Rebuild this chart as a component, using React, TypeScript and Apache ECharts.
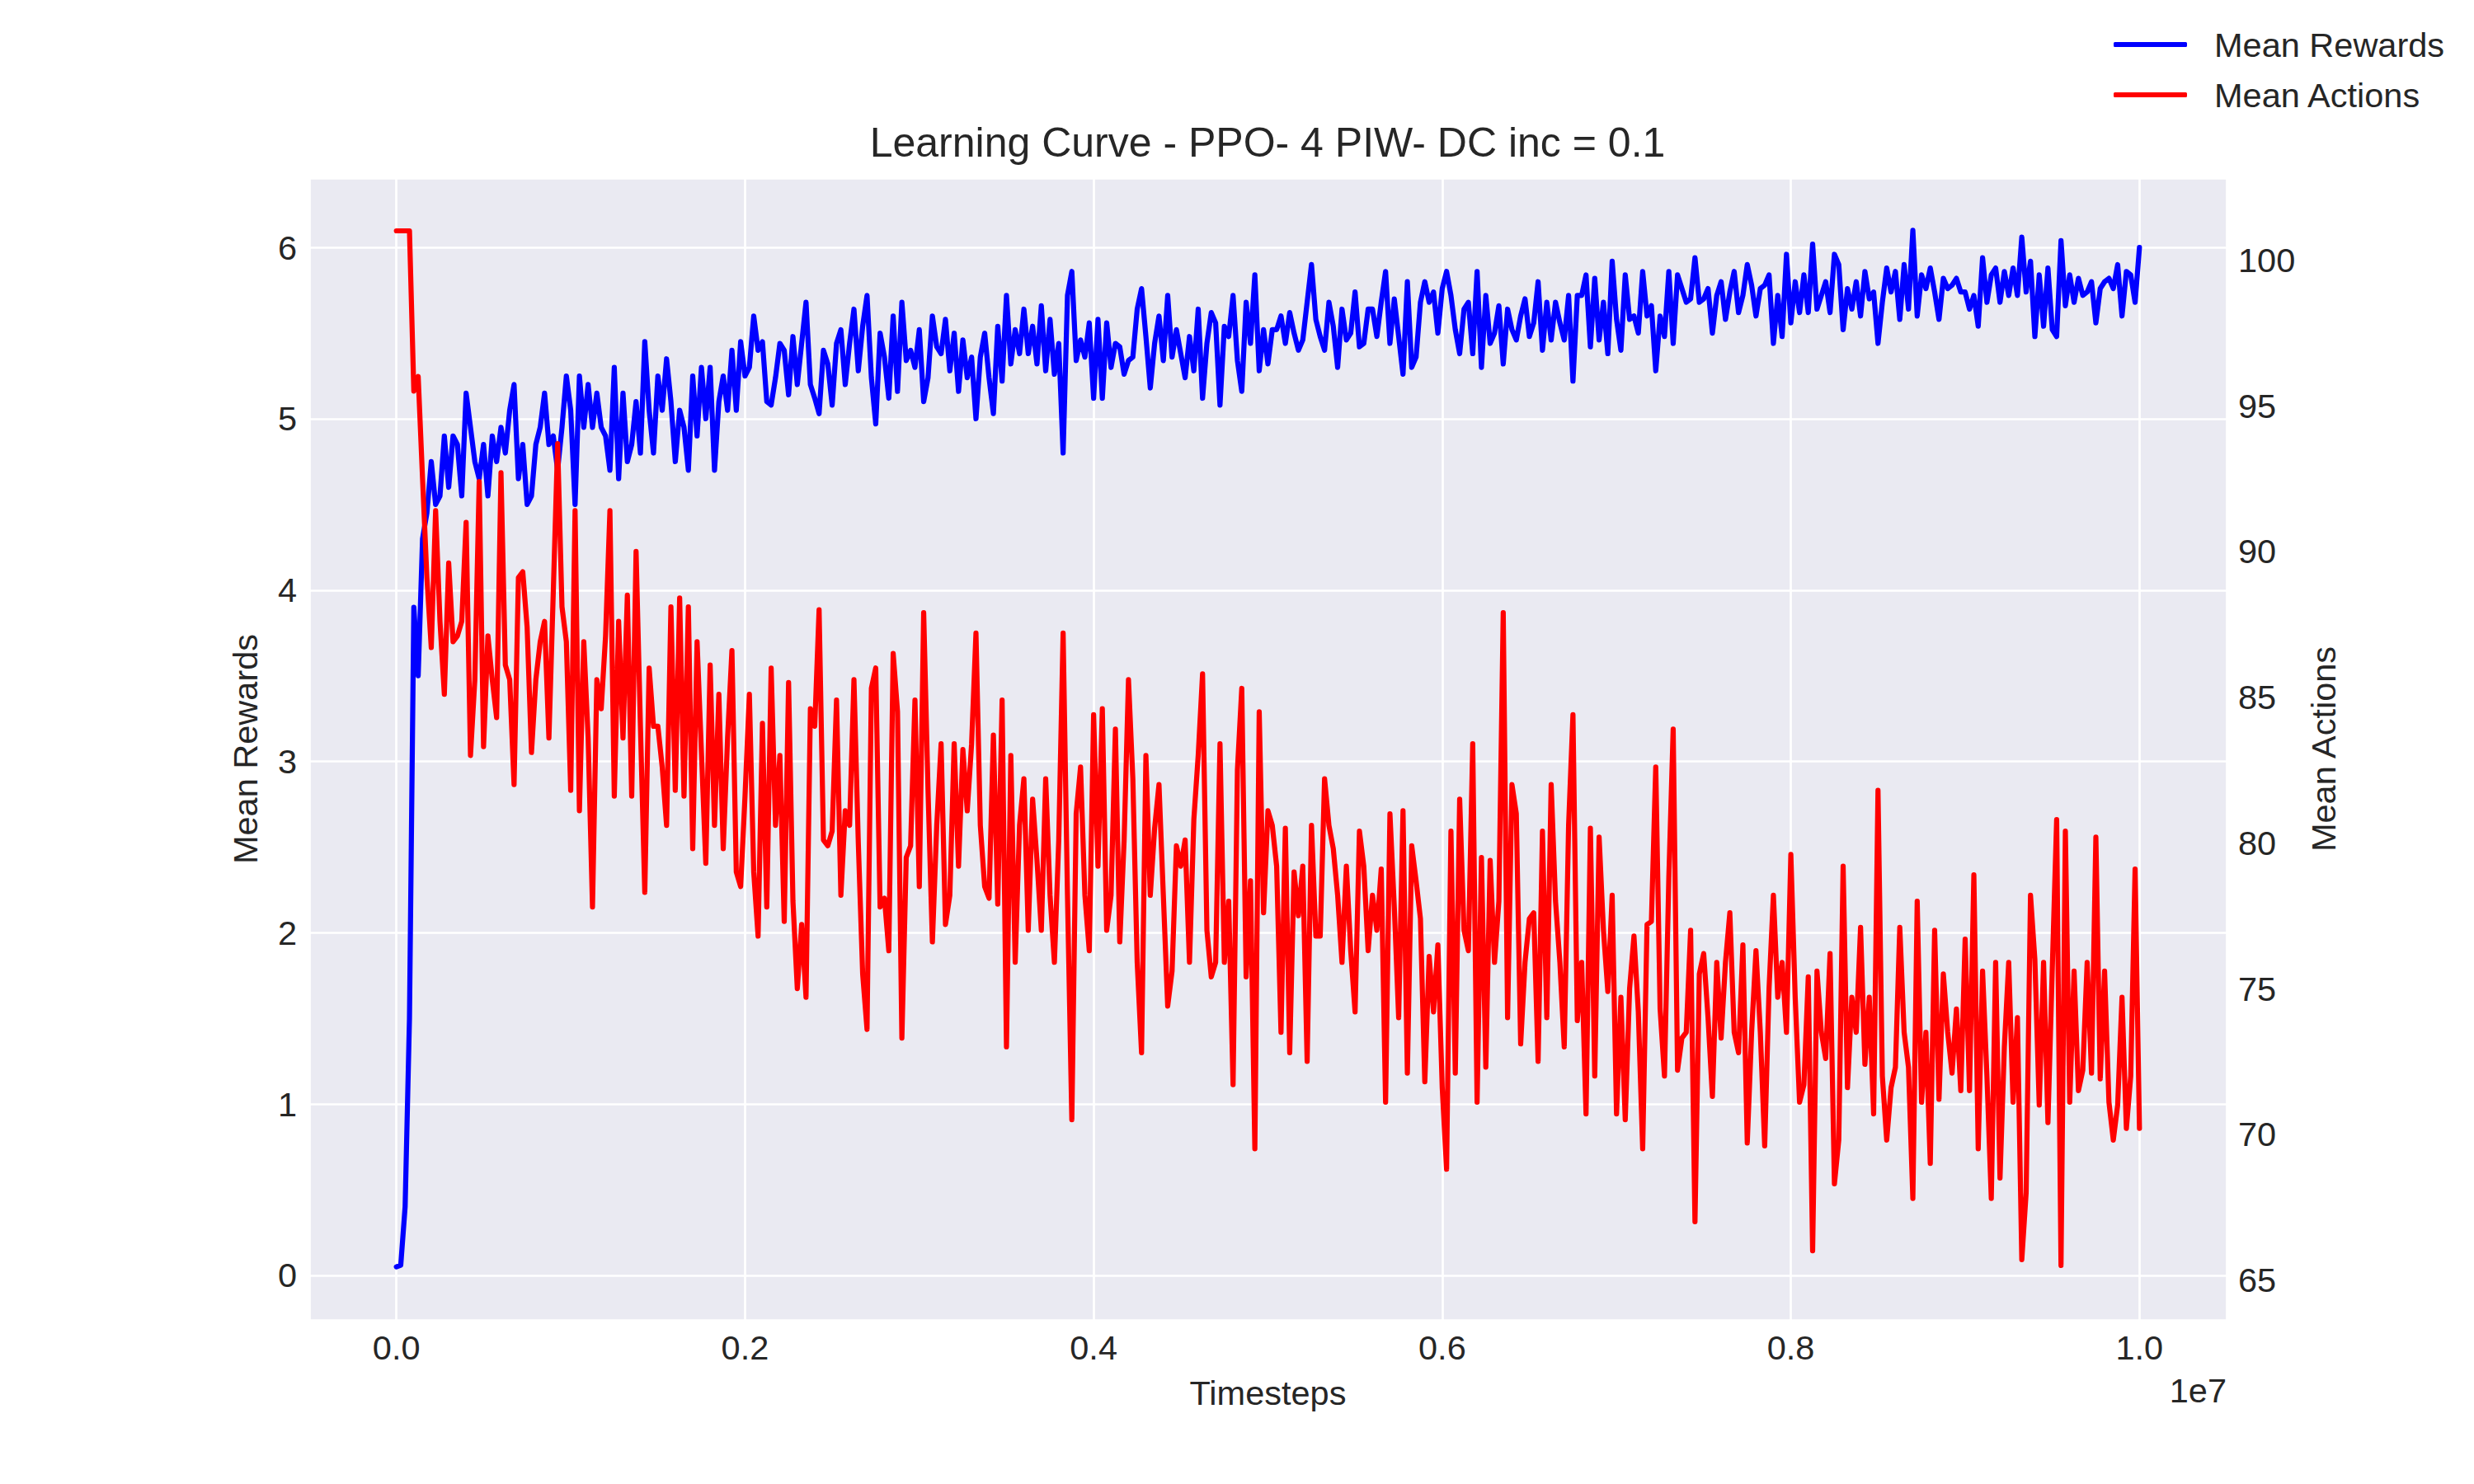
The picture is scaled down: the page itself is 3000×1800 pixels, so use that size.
import React, { useEffect, useRef } from "react";
import * as echarts from "echarts";

const FONT = "'Liberation Sans', Arial, sans-serif";
const TEXT_COLOR = "#262626";
const TITLE = "Learning Curve - PPO- 4 PIW- DC inc = 0.1";
const X_NAME = "Timesteps";
const Y_LEFT_NAME = "Mean Rewards";
const Y_RIGHT_NAME = "Mean Actions";
const X_OFFSET_LABEL = "1e7";

// timesteps are logged every STEP environment steps (0 .. 1e7)
const STEP = 25000;

// Mean Rewards (one value per STEP)
const REWARDS_A = [
  0.05, 0.06, 0.4, 1.5, 3.9, 3.5, 4.3, 4.45, 4.75, 4.5,
  4.55, 4.9, 4.6, 4.9, 4.85, 4.55, 5.15, 4.95, 4.75, 4.65,
  4.85, 4.55, 4.9, 4.75, 4.95, 4.8, 5.05, 5.2, 4.65, 4.85,
  4.5, 4.55, 4.85, 4.95, 5.15, 4.85, 4.9, 4.7, 4.95, 5.25,
  5.05, 4.5, 5.25, 4.95, 5.2, 4.95, 5.15, 4.95, 4.9, 4.7,
  5.3, 4.65, 5.15, 4.75, 4.85, 5.1, 4.8, 5.45, 5.05, 4.8,
  5.25, 5.05, 5.35, 5.1, 4.75, 5.05, 4.95, 4.7, 5.25, 4.9,
  5.3, 5.0, 5.3, 4.7, 5.1, 5.25, 5.05, 5.4, 5.05, 5.45,
  5.25, 5.3, 5.6, 5.4, 5.45, 5.1,
];
const REWARDS_B = [
  5.08, 5.24, 5.44, 5.4, 5.14, 5.48, 5.2, 5.44, 5.68, 5.2,
  5.12, 5.03, 5.4, 5.32, 5.08, 5.44, 5.52, 5.2, 5.44, 5.64,
  5.28, 5.54, 5.72, 5.24, 4.97, 5.5, 5.36, 5.12, 5.6, 5.16,
  5.68, 5.34, 5.4, 5.3, 5.52, 5.1, 5.24, 5.6, 5.42, 5.38,
  5.58, 5.28, 5.5, 5.16, 5.46, 5.24, 5.36, 5.0, 5.36, 5.5,
  5.24, 5.03, 5.54, 5.22, 5.72, 5.32, 5.52, 5.38, 5.64, 5.38,
  5.54, 5.32, 5.66, 5.28, 5.58, 5.26, 5.44, 4.8, 5.72, 5.86,
  5.34, 5.46, 5.36, 5.56, 5.12, 5.58, 5.12, 5.56, 5.3, 5.44,
];
const REWARDS_C = [
  5.42, 5.26, 5.34, 5.36, 5.64, 5.76, 5.48, 5.18, 5.44, 5.6,
  5.34, 5.72, 5.36, 5.52, 5.38, 5.24, 5.48, 5.28, 5.64, 5.12,
  5.44, 5.62, 5.56, 5.08, 5.54, 5.48, 5.72, 5.34, 5.16, 5.68,
  5.44, 5.84, 5.28, 5.52, 5.32, 5.52, 5.52, 5.6, 5.44, 5.62,
  5.5, 5.4, 5.46, 5.68, 5.9, 5.58, 5.48, 5.4, 5.68, 5.54,
  5.3, 5.64, 5.46, 5.5, 5.74, 5.42, 5.44, 5.64, 5.64, 5.48,
  5.68, 5.86, 5.44, 5.7, 5.48, 5.26, 5.8, 5.3, 5.36, 5.68,
  5.8, 5.68, 5.74, 5.5, 5.76, 5.86, 5.72, 5.52, 5.38, 5.64,
];
const REWARDS_D = [
  5.68, 5.38, 5.86, 5.3, 5.72, 5.44, 5.5, 5.66, 5.32, 5.64,
  5.52, 5.46, 5.6, 5.7, 5.48, 5.56, 5.8, 5.4, 5.68, 5.46,
  5.68, 5.56, 5.46, 5.72, 5.22, 5.72, 5.72, 5.84, 5.42, 5.82,
  5.46, 5.68, 5.38, 5.92, 5.58, 5.4, 5.84, 5.58, 5.6, 5.5,
  5.86, 5.6, 5.66, 5.28, 5.6, 5.48, 5.86, 5.44, 5.84, 5.76,
  5.68, 5.7, 5.94, 5.68, 5.7, 5.76, 5.5, 5.72, 5.8, 5.58,
  5.74, 5.86, 5.62, 5.72, 5.9, 5.78, 5.6, 5.76, 5.78, 5.84,
  5.44, 5.72, 5.48, 5.96, 5.56, 5.8, 5.62, 5.84, 5.62, 6.02,
];
const REWARDS_E = [
  5.64, 5.72, 5.8, 5.62, 5.96, 5.9, 5.52, 5.76, 5.64, 5.8,
  5.6, 5.86, 5.7, 5.74, 5.44, 5.68, 5.88, 5.74, 5.86, 5.58,
  5.9, 5.64, 6.1, 5.6, 5.84, 5.76, 5.88, 5.74, 5.58, 5.82,
  5.76, 5.78, 5.82, 5.74, 5.74, 5.64, 5.72, 5.54, 5.94, 5.68,
  5.84, 5.88, 5.68, 5.86, 5.72, 5.88, 5.72, 6.06, 5.74, 5.92,
  5.48, 5.84, 5.54, 5.88, 5.52, 5.48, 6.04, 5.66, 5.84, 5.68,
  5.82, 5.72, 5.74, 5.8, 5.56, 5.76, 5.8, 5.82, 5.76, 5.9,
  5.6, 5.86, 5.84, 5.68, 6.0,
];

// Mean Actions (one value per STEP)
const ACTIONS_A = [
  101, 101, 101, 101, 95.5, 96, 92.5, 89.1, 86.7, 91.4,
  87.6, 85.1, 89.6, 86.9, 87.1, 87.6, 91, 83, 85.6, 92.4,
  83.3, 87.1, 85.6, 84.3, 92.7, 86.1, 85.6, 82, 89.1, 89.3,
  87.4, 83.1, 85.6, 86.9, 87.6, 83.6, 88.6, 93.7, 88.1, 86.9,
  81.8, 91.4, 81.1, 86.9, 83.6, 77.8, 85.6, 84.6, 87.1, 91.4,
  81.6, 87.6, 83.6, 88.5, 81.6, 90, 84, 78.3, 86, 84,
  84, 82.6, 80.6, 88.1, 81.8, 88.4, 81.6, 88.1, 79.8, 86.9,
  83.1, 79.3, 86.1, 80.6, 85.1, 79.8, 83.6, 86.6, 79, 78.5,
  81.6, 85.1, 79, 76.8, 84.1, 77.8,
];
const ACTIONS_B = [
  86, 80.6, 83, 77.3, 85.5, 78, 75, 77.2, 74.7, 84.6,
  84, 88, 80.1, 79.9, 80.4, 84.9, 78.2, 81.1, 80.6, 85.6,
  80, 75.5, 73.6, 85.3, 86, 77.8, 78.1, 76.3, 86.5, 84.5,
  73.3, 79.5, 79.9, 84.9, 78.5, 87.9, 81.8, 76.6, 80.6, 83.4,
  77.2, 78.2, 83.4, 79.2, 83.2, 81.1, 83.4, 87.2, 80.6, 78.5,
  78.1, 83.7, 77.9, 84.9, 73, 83, 75.9, 80.6, 82.2, 77,
  81.5, 79.4, 77, 82.2, 78.2, 75.9, 80.1, 87.2, 78.2, 70.5,
  81, 82.6, 78.2, 76.3, 84.4, 79.2, 84.6, 77, 78.2, 83.9,
];
const ACTIONS_C = [
  76.6, 80.1, 85.6, 82.2, 75.9, 72.8, 83, 78.2, 80.5, 82,
  78.2, 74.4, 75.6, 79.9, 79.2, 80.1, 75.9, 80.8, 83, 85.8,
  77, 75.4, 75.9, 83.4, 75.9, 78, 71.7, 82.5, 85.3, 75.4,
  78.7, 69.5, 84.5, 77.6, 81.1, 80.6, 79.2, 73.5, 80.5, 72.8,
  79, 77.5, 79.2, 72.5, 80.6, 76.8, 76.8, 82.2, 80.6, 79.8,
  78.2, 75.9, 79.2, 76.3, 74.2, 80.4, 79.2, 76.3, 78.2, 77,
  79.1, 71.1, 81, 77.8, 74, 81.1, 72.1, 79.9, 78.7, 77.4,
  71.8, 76.1, 74.2, 76.5, 71.6, 68.8, 80.4, 72.1, 81.5, 77,
];
const ACTIONS_D = [
  76.3, 83.4, 71.1, 79.5, 72.3, 79.4, 75.9, 78, 87.9, 74,
  82, 81, 73.1, 75.9, 77.4, 77.6, 72.5, 80.4, 74, 82,
  78, 75.9, 73, 80.6, 84.4, 73.9, 75.9, 70.7, 80.5, 72,
  80.2, 77, 74.9, 78.2, 70.7, 74.7, 70.5, 75, 76.8, 74.2,
  69.5, 77.2, 77.3, 82.6, 74.3, 72, 78.8, 83.9, 72.2, 73.3,
  73.5, 77, 67, 75.5, 76.2, 74, 71.3, 75.9, 73.3, 75.9,
  77.6, 73.5, 72.8, 76.5, 69.7, 73.5, 76.3, 73.5, 69.6, 75,
  78.2, 74.7, 75.9, 73.5, 79.6, 74.7, 71.1, 71.7, 75.4, 66,
];
const ACTIONS_E = [
  75.6, 73.5, 72.6, 76.2, 68.3, 69.8, 79.2, 71.6, 74.7, 73.5,
  77.1, 72.4, 74.7, 70.7, 81.8, 72, 69.8, 71.6, 72.3, 77.1,
  73.5, 72.3, 67.8, 78, 71.1, 73.5, 69, 77, 71.2, 75.5,
  73.5, 72.1, 74.3, 71.5, 76.7, 71.5, 78.9, 69.5, 75.6, 72,
  67.8, 75.9, 68.5, 73, 75.9, 71.1, 74, 65.7, 68, 78.2,
  76, 71, 75.9, 70.4, 75.7, 80.8, 65.5, 80.4, 71.1, 75.6,
  71.5, 72.2, 75.9, 72.1, 80.2, 71.9, 75.6, 71.1, 69.8, 71,
  74.7, 70.2, 72, 79.1, 70.2,
];

const REWARDS = [...REWARDS_A, ...REWARDS_B, ...REWARDS_C, ...REWARDS_D, ...REWARDS_E];
const ACTIONS = [...ACTIONS_A, ...ACTIONS_B, ...ACTIONS_C, ...ACTIONS_D, ...ACTIONS_E];

// axis limits (matplotlib auto-margins of 5%)
const X_MIN = -500000;
const X_MAX = 10500000;
const X_TICK = 2000000;
const YL_MIN = -0.26;
const YL_MAX = 6.405;
const YL_TICK = 1;
const YR_MIN = 63.63;
const YR_MAX = 102.81;
const YR_TICK = 5;

const LINE_WIDTH = 6.2;

const isMultiple = (v: number, step: number) => Math.abs(v / step - Math.round(v / step)) < 1e-6;

export default function App() {
  const ref = useRef<HTMLDivElement>(null);

  useEffect(() => {
    if (!ref.current) return;
    const chart = echarts.init(ref.current, null, { renderer: "svg" });

    const rewardData = REWARDS.map((v, i) => [i * STEP, v]);
    const actionData = ACTIONS.map((v, i) => [i * STEP, v]);

    const tickLabel = { fontSize: 41.5, color: TEXT_COLOR, fontFamily: FONT };
    const nameStyle = { fontSize: 41.5, color: TEXT_COLOR, fontFamily: FONT };

    chart.setOption({
      animation: false,
      backgroundColor: "#ffffff",
      textStyle: { fontFamily: FONT },
      title: {
        text: TITLE,
        left: 1537,
        top: 148,
        padding: 0,
        textAlign: "center",
        textStyle: { fontSize: 50, fontWeight: "normal", color: TEXT_COLOR, fontFamily: FONT, lineHeight: 50 },
      },
      legend: {
        orient: "vertical",
        left: 2563,
        top: 33,
        padding: 0,
        itemGap: 19,
        itemWidth: 89,
        itemHeight: 6,
        icon: "roundRect",
        textStyle: { fontSize: 41.5, color: TEXT_COLOR, fontFamily: FONT, lineHeight: 42, padding: [0, 0, 0, 28] },
        data: [Y_LEFT_NAME, Y_RIGHT_NAME],
      },
      grid: {
        left: 375,
        top: 216,
        width: 2325,
        height: 1385,
        show: true,
        backgroundColor: "#EAEAF2",
        borderWidth: 0,
        containLabel: false,
      },
      xAxis: {
        type: "value",
        min: X_MIN,
        max: X_MAX,
        splitNumber: 5,
        minInterval: X_TICK,
        maxInterval: X_TICK,
        name: X_NAME,
        nameLocation: "middle",
        nameGap: 67,
        nameTextStyle: nameStyle,
        axisLine: { show: false },
        axisTick: { show: false },
        axisLabel: {
          ...tickLabel,
          margin: 12,
          formatter: (v: number) => (isMultiple(v, X_TICK) ? (v / 1e7).toFixed(1) : ""),
        },
        splitLine: { show: true, lineStyle: { color: "#ffffff", width: 2.7 } },
      },
      yAxis: [
        {
          type: "value",
          position: "left",
          min: YL_MIN,
          max: YL_MAX,
          splitNumber: 6,
          minInterval: YL_TICK,
          maxInterval: YL_TICK,
          name: Y_LEFT_NAME,
          nameLocation: "middle",
          nameRotate: 90,
          nameGap: 57,
          nameTextStyle: nameStyle,
          axisLine: { show: false },
          axisTick: { show: false },
          axisLabel: {
            ...tickLabel,
            margin: 15,
            formatter: (v: number) => (isMultiple(v, YL_TICK) ? String(Math.round(v)) : ""),
          },
          splitLine: { show: true, lineStyle: { color: "#ffffff", width: 2.7 } },
        },
        {
          type: "value",
          position: "right",
          min: YR_MIN,
          max: YR_MAX,
          splitNumber: 7,
          minInterval: YR_TICK,
          maxInterval: YR_TICK,
          name: Y_RIGHT_NAME,
          nameLocation: "middle",
          nameRotate: 90,
          nameGap: 96,
          nameTextStyle: nameStyle,
          axisLine: { show: false },
          axisTick: { show: false },
          axisLabel: {
            ...tickLabel,
            margin: 14,
            formatter: (v: number) => (isMultiple(v, YR_TICK) ? String(Math.round(v)) : ""),
          },
          splitLine: { show: false },
        },
      ],
      graphic: [
        {
          type: "text",
          x: 2700,
          y: 1686,
          silent: true,
          style: {
            text: X_OFFSET_LABEL,
            fontSize: 41.5,
            fontFamily: FONT,
            fill: TEXT_COLOR,
            textAlign: "right",
            textVerticalAlign: "middle",
          },
        },
      ],
      series: [
        {
          type: "line",
          name: Y_LEFT_NAME,
          yAxisIndex: 0,
          data: rewardData,
          showSymbol: false,
          symbol: "none",
          silent: true,
          z: 2,
          itemStyle: { color: "#0000ff" },
          lineStyle: { color: "#0000ff", width: LINE_WIDTH, cap: "round", join: "round" },
        },
        {
          type: "line",
          name: Y_RIGHT_NAME,
          yAxisIndex: 1,
          data: actionData,
          showSymbol: false,
          symbol: "none",
          silent: true,
          z: 3,
          itemStyle: { color: "#ff0000" },
          lineStyle: { color: "#ff0000", width: LINE_WIDTH, cap: "round", join: "round" },
        },
      ],
    });

    return () => chart.dispose();
  }, []);

  return (
    <div
      ref={ref}
      style={{ position: "fixed", left: 0, top: 0, width: 3000, height: 1800, background: "#ffffff" }}
    />
  );
}
